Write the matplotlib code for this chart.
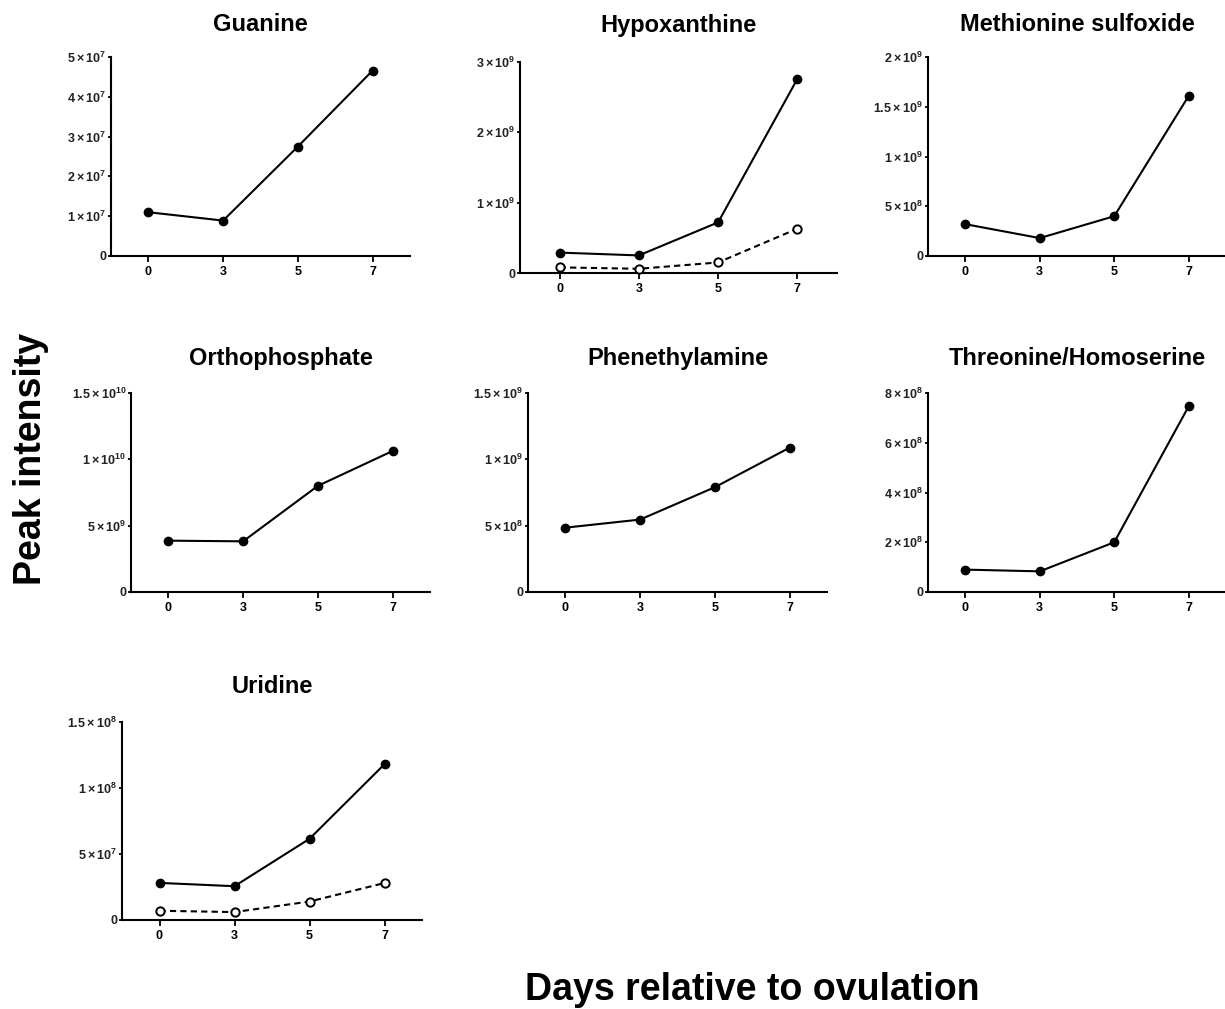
import numpy as np
import matplotlib
matplotlib.use('Agg')
import matplotlib.pyplot as plt

plt.rcParams['font.family'] = ['Liberation Sans', 'DejaVu Sans']
plt.rcParams['font.weight'] = 'bold'
plt.rcParams['mathtext.fontset'] = 'custom'
plt.rcParams['mathtext.rm'] = 'Liberation Sans:bold'
plt.rcParams['mathtext.it'] = 'Liberation Sans:bold'
plt.rcParams['mathtext.bf'] = 'Liberation Sans:bold'

# data
days = ['0', '3', '5', '7']

guanine = [1.10e7, 0.89e7, 2.75e7, 4.66e7]
hypoxanthine = [0.29e9, 0.25e9, 0.72e9, 2.76e9]
hypoxanthine_open = [0.08e9, 0.06e9, 0.15e9, 0.63e9]
methionine_sulfoxide = [0.32e9, 0.18e9, 0.40e9, 1.61e9]
orthophosphate = [3.87e9, 3.82e9, 8.00e9, 10.63e9]
phenethylamine = [0.485e9, 0.546e9, 0.79e9, 1.088e9]
threonine_homoserine = [0.90e8, 0.83e8, 2.00e8, 7.47e8]
uridine = [2.81e7, 2.56e7, 6.15e7, 11.8e7]
uridine_open = [0.70e7, 0.60e7, 1.40e7, 2.80e7]

guanine_ticks = [0, 1e7, 2e7, 3e7, 4e7, 5e7]
hypoxanthine_ticks = [0, 1e9, 2e9, 3e9]
methionine_ticks = [0, 5e8, 1e9, 1.5e9, 2e9]
orthophosphate_ticks = [0, 5e9, 1e10, 1.5e10]
phenethylamine_ticks = [0, 5e8, 1e9, 1.5e9]
threonine_ticks = [0, 2e8, 4e8, 6e8, 8e8]
uridine_ticks = [0, 5e7, 1e8, 1.5e8]

W, H = 1225, 1009
fig = plt.figure(figsize=(W / 100, H / 100), dpi=100)


def sci_label(v):
    if v == 0:
        return '0'
    e = int(np.floor(np.log10(v)))
    m = v / 10 ** e
    ms = ('%.1f' % m).rstrip('0').rstrip('.')
    return r'$%s\times10^{%d}$' % (ms, e)


def panel(box, title_y, title, values, ticks, open_values=None):
    x0, y0, x1, y1 = box
    ax = fig.add_axes([x0 / W, (H - y1) / H, (x1 - x0) / W, (y1 - y0) / H])
    x = np.arange(len(days))
    ax.plot(x, values, color='black', lw=1.5, marker='o', ms=6,
            mfc='black', mec='black', clip_on=False, zorder=3)
    if open_values is not None:
        ax.plot(x, open_values, color='black', lw=1.5, ls=(0, (3, 2)),
                marker='o', ms=6, mfc='white', mec='black', mew=1.4,
                clip_on=False, zorder=3)
    ax.set_xlim(-0.5, len(days) - 0.5)
    ax.set_ylim(0, ticks[-1])
    ax.set_xticks(x)
    ax.set_xticklabels(days, fontsize=9, fontweight='bold')
    ax.set_yticks(ticks)
    ax.set_yticklabels([sci_label(t) for t in ticks], fontsize=9,
                       color='#222222')
    for s in ['top', 'right']:
        ax.spines[s].set_visible(False)
    for s in ['left', 'bottom']:
        ax.spines[s].set_linewidth(1.5)
    ax.tick_params(axis='x', width=1.3, length=4, pad=3)
    ax.tick_params(axis='y', width=1.3, length=2.5, pad=1)
    ax.set_title(title, fontsize=17, fontweight='bold',
                 pad=(y0 - title_y) * 0.72)
    return ax


panel((111, 57, 410, 256), 31, 'Guanine', guanine, guanine_ticks)
panel((520, 62, 837, 273), 32, 'Hypoxanthine', hypoxanthine,
      hypoxanthine_ticks, hypoxanthine_open)
panel((928, 57, 1226, 256), 31, 'Methionine sulfoxide', methionine_sulfoxide,
      methionine_ticks)
panel((131, 393, 430, 592), 365, 'Orthophosphate', orthophosphate,
      orthophosphate_ticks)
panel((528, 393, 827, 592), 365, 'Phenethylamine', phenethylamine,
      phenethylamine_ticks)
panel((928, 393, 1226, 592), 365, 'Threonine/Homoserine',
      threonine_homoserine, threonine_ticks)
panel((122, 722, 422, 920), 693, 'Uridine', uridine, uridine_ticks,
      uridine_open)

fig.text(31 / W, 1 - 459 / H, 'Peak intensity', rotation=90, fontsize=27,
         fontweight='bold', ha='center', va='center')
fig.text(752 / W, 1 - 1000 / H, 'Days relative to ovulation', fontsize=27,
         fontweight='bold', ha='center', va='baseline')

fig.savefig('out.png', dpi=100, facecolor='white')
